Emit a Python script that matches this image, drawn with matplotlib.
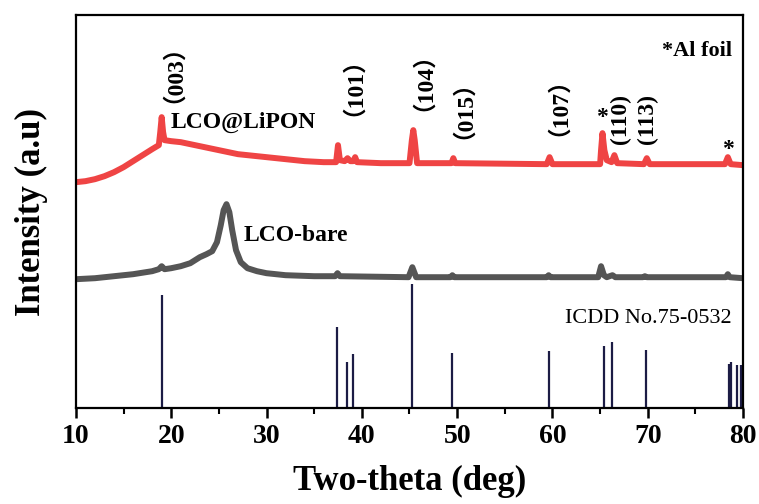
import matplotlib
matplotlib.use('Agg')
import matplotlib.pyplot as plt
from matplotlib.ticker import MultipleLocator

# intensities in arbitrary units (0 = stick baseline)
lipon_x = [10, 11, 12, 13, 14, 15, 16, 17, 18, 18.7, 18.85, 19.0, 19.15, 19.3, 20, 21, 22, 23, 24, 25,
           26, 27, 28, 30, 32, 34, 36, 37.3, 37.5, 37.7, 38.2, 38.5, 38.8, 39.1, 39.3, 39.5, 42, 45.0,
           45.25, 45.4, 45.55, 45.8, 49.4, 49.6, 49.8, 59.4, 59.7, 60.0, 65.0, 65.1, 65.25, 65.45, 65.7,
           66.2, 66.5, 66.8, 69.6, 69.9, 70.2, 78.1, 78.4, 78.7, 80]
lipon_y = [226, 227, 229, 232, 236, 241, 247, 253, 259, 263, 276, 291, 276, 268, 267, 266, 264, 262, 260, 258,
           256, 254, 253, 251, 249, 247, 246, 246, 263, 248, 247, 250, 247, 247, 251, 246, 245, 245,
           268, 278, 268, 245, 245, 250, 245, 244, 251, 244, 244, 258, 275, 258, 248,
           246, 253, 245, 244, 250, 244, 244, 251, 244, 243]

bare_x = [10, 12, 14, 16, 18, 18.7, 19.0, 19.3, 20, 21, 22, 22.5, 23, 23.7, 24.3, 24.8, 25.2, 25.5, 25.8,
          26.1, 26.4, 26.8, 27.3, 28, 29, 30, 32, 35, 37.2, 37.45, 37.7, 44.9, 45.3, 45.7, 49.3, 49.5,
          49.7, 59.4, 59.6, 59.8, 64.8, 65.1, 65.4, 65.7, 66.3, 66.6, 69.5, 69.7, 69.9, 78.2, 78.4, 78.6, 80]
bare_y = [129, 130, 132, 134, 137, 139, 142, 139, 140, 142, 145, 148, 151, 154, 157, 166, 183, 198, 204,
          196, 178, 158, 146, 140, 137, 135, 133, 132, 132, 135, 132, 131, 141, 131, 131, 133,
          131, 131, 133, 131, 131, 142, 133, 131, 133, 131, 131, 132, 131, 131, 134, 131, 130]

# ICDD No.75-0532 reference lines
ref_pos = [19.0, 37.4, 38.4, 39.1, 45.3, 49.5, 59.6, 65.4, 66.3, 69.8, 78.5, 78.7, 79.4, 79.75]
ref_int = [113, 81, 46, 54, 124, 55, 57, 62, 66, 58, 44, 46, 43, 43]

# peak labels
hkl_text = ['（003）', '（101）', '（104）', '（015）', '（107）', '(110)', '(113)']
hkl_x = [19.0, 37.9, 45.2, 49.4, 59.4, 67.1, 70.0]
hkl_y = [346, 334, 339, 311, 314, 289, 289]
star_x = [65.2, 78.4]
star_y = [291, 259]

serif = ['Liberation Serif', 'Noto Sans CJK SC', 'DejaVu Serif']
plt.rcParams['font.family'] = serif

fig = plt.figure(figsize=(7.59, 5.04), dpi=100)
ax = fig.add_axes([0.100, 0.190, 0.879, 0.780])

ax.vlines(ref_pos, 0, ref_int, color='#1c1c45', linewidth=1.6)
ax.plot(bare_x, bare_y, color='#555555', linewidth=4.3, solid_joinstyle='round')
ax.plot(lipon_x, lipon_y, color='#ef4444', linewidth=4.3, solid_joinstyle='round')

for t, x, y in zip(hkl_text, hkl_x, hkl_y):
    ax.text(x, y, t, rotation=90, ha='center', va='center', fontsize=17,
            fontweight='bold', family=serif)
for x, y in zip(star_x, star_y):
    ax.text(x, y, '*', ha='center', va='center', fontsize=17, fontweight='bold')

ax.text(19.9, 286, 'LCO@LiPON', fontsize=17, fontweight='bold', va='center')
ax.text(27.6, 173, 'LCO-bare', fontsize=17, fontweight='bold', va='center')
ax.text(78.8, 357, '*Al foil', fontsize=16, fontweight='bold', va='center', ha='right')
ax.text(78.8, 90, 'ICDD No.75-0532', fontsize=16, va='center', ha='right')

ax.set_xlim(10, 80)
ax.set_ylim(0, 393)
ax.xaxis.set_major_locator(MultipleLocator(10))
ax.xaxis.set_minor_locator(MultipleLocator(5))
ax.set_yticks([])
ax.tick_params(axis='x', which='major', direction='out', length=7, width=1.8,
               labelsize=20, pad=4)
ax.tick_params(axis='x', which='minor', direction='out', length=4, width=1.5)
for lab in ax.get_xticklabels():
    lab.set_fontweight('bold')
for s in ax.spines.values():
    s.set_linewidth(1.6)

ax.set_xlabel('Two-theta (deg)', fontsize=25, fontweight='bold', labelpad=12)
ax.set_ylabel('Intensity (a.u)', fontsize=25, fontweight='bold', labelpad=20)

fig.savefig('out.png', dpi=100)
